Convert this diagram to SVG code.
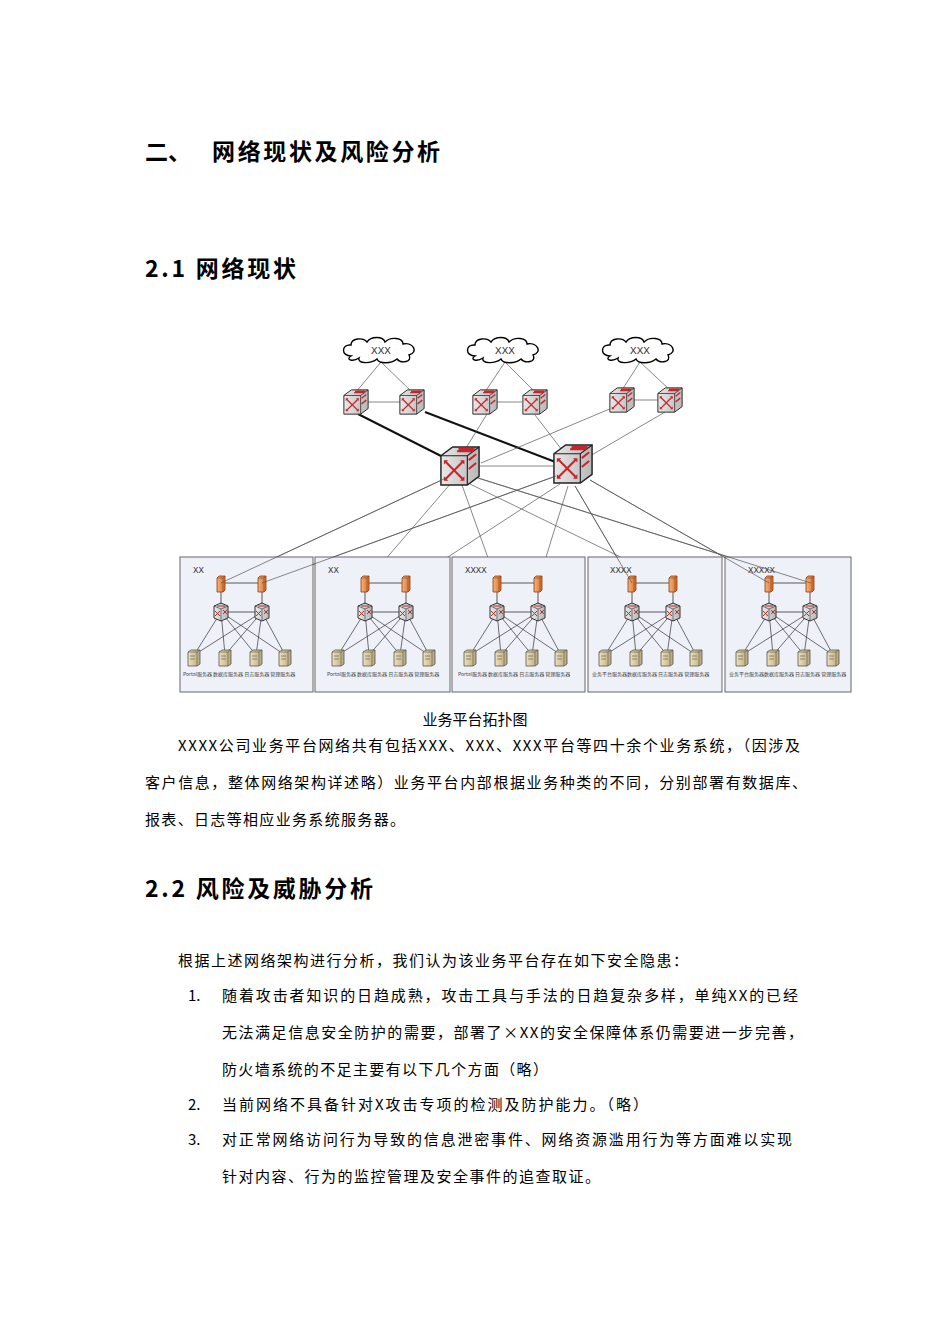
<svg xmlns="http://www.w3.org/2000/svg" xmlns:xlink="http://www.w3.org/1999/xlink" width="950" height="1344" viewBox="0 0 950 1344">
<style>
.h{font-family:"Noto Sans CJK SC",sans-serif;font-weight:bold;fill:#000}
.b{font-family:"Noto Sans CJK SC",sans-serif;font-size:15px;fill:#000}
.lbl{font-family:"Liberation Mono","Noto Sans CJK SC",monospace;fill:#333}
.sv{font-family:"Noto Sans CJK SC",sans-serif;font-size:5px;fill:#444}
.thin{stroke:#555;stroke-width:0.7;fill:none}
.thick{stroke:#111;stroke-width:2;fill:none}
.blk{fill:#eef1f8;stroke:#666;stroke-width:1}
</style>
<defs>
<linearGradient id="gf" x1="0" y1="0" x2="1" y2="0"><stop offset="0" stop-color="#e8e8e8"/><stop offset="1" stop-color="#b8b8b8"/></linearGradient>
<linearGradient id="fw" x1="0" y1="0" x2="1" y2="0"><stop offset="0" stop-color="#f7b27a"/><stop offset="1" stop-color="#d9702a"/></linearGradient>
<linearGradient id="srv" x1="0" y1="0" x2="1" y2="0"><stop offset="0" stop-color="#efe3b8"/><stop offset="1" stop-color="#b9a57a"/></linearGradient>
<symbol id="cube" viewBox="0 0 30 30">
<path d="M2 8 L10 2 L28 2 L28 22 L20 28 L2 28 Z" fill="url(#gf)" stroke="#222" stroke-width="1"/>
<path d="M2 8 L20 8 L28 2 M20 8 L20 28" fill="none" stroke="#222" stroke-width="0.8"/>
<path d="M5 12 L17 24 M17 12 L5 24 M13 5 L24 5 M14 3.5 L25 3.5 M21 11 L26 7 M21 17 L26 13" stroke="#c8242a" stroke-width="1.4" fill="none"/>
<path d="M4 11 l3 0 l-3 3 Z M18 25 l-3 0 l3 -3 Z M18 11 l0 3 l-3 -3 Z M4 25 l0 -3 l3 3 Z" fill="#c8242a"/>
</symbol>
<symbol id="rt" viewBox="0 0 20 20">
<path d="M3 4 L10 1 L17 4 L17 16 L10 19 L3 16 Z" fill="url(#gf)" stroke="#333" stroke-width="1"/>
<path d="M3 4 L10 7 L17 4 M10 7 L10 19" fill="none" stroke="#333" stroke-width="0.6"/>
<path d="M4 9 L9 14 M9 9 L4 14 M12 8 L16 12 M16 8 L12 12 M6 4 L14 4" stroke="#b03030" stroke-width="1"/>
</symbol>
<symbol id="fwl" viewBox="0 0 10 18">
<path d="M1 3 L3 1 L9 1 L9 15 L7 17 L1 17 Z" fill="url(#fw)" stroke="#8a3d10" stroke-width="0.8"/>
<path d="M1 3 L7 3 L9 1 M7 3 L7 17" fill="none" stroke="#8a3d10" stroke-width="0.6"/>
</symbol>
<symbol id="sv" viewBox="0 0 14 18">
<path d="M1 3 L4 1 L13 1 L13 15 L10 17 L1 17 Z" fill="url(#srv)" stroke="#555" stroke-width="0.8"/>
<path d="M1 3 L10 3 L13 1 M10 3 L10 17 M3 7 L8 7 M3 10 L8 10" fill="none" stroke="#555" stroke-width="0.6"/>
</symbol>
<g id="inner">
<path d="M41 26 H82 M41 55 H82 M41 26 V55 M82 26 V55" fill="none" stroke="#333" stroke-width="0.8"/>
<path d="M41 55 L14 98 M41 55 L45 98 M41 55 L76 98 M41 55 L105 98 M82 55 L14 98 M82 55 L45 98 M82 55 L76 98 M82 55 L105 98" stroke="#333" stroke-width="0.7" fill="none"/>
<use href="#fwl" x="36" y="18" width="10" height="18"/>
<use href="#fwl" x="77" y="18" width="10" height="18"/>
<use href="#rt" x="31" y="45" width="20" height="20"/>
<use href="#rt" x="72" y="45" width="20" height="20"/>
<use href="#sv" x="7" y="92" width="14" height="18"/>
<use href="#sv" x="38" y="92" width="14" height="18"/>
<use href="#sv" x="69" y="92" width="14" height="18"/>
<use href="#sv" x="98" y="92" width="14" height="18"/>
</g>
</defs>
<rect width="950" height="1344" fill="#fff"/>
<text class="h" x="145" y="160" font-size="23">二、</text>
<text class="h" x="212" y="160" font-size="23" textLength="228" lengthAdjust="spacing">网络现状及风险分析</text>
<text class="h" x="145" y="277" font-size="23" textLength="151" lengthAdjust="spacing">2.1 网络现状</text>

<g id="connectors">
<path class="thin" d="M381 362 L356 392 M381 362 L412 392 M505 362 L485 392 M505 362 L535 392 M640 362 L622 390 M640 362 L670 390 M368 402 H400 M497 402 H522 M634 400 H658 M480 466 H553"/>
<path class="thick" d="M358 414 L445 458 M425 412 L558 463"/>
<path class="thin" d="M487 414 L466 448 M535 415 L562 450 M612 408 L481 463 M665 412 L590 456"/>
<path class="thin" d="M446 478 L221 583 M452 482 L365 583 M462 485 L497 583 M470 484 L674 583 M478 478 L811 583 M556 476 L262 583 M560 484 L408 583 M568 486 L538 583 M575 486 L632 583 M590 480 L769 583"/>
</g>

<g id="clouds">
<g id="cloud1" transform="translate(381,350)"><path d="M-30 6 C-40 6 -40 -6 -30 -5 C-30 -12 -18 -13 -14 -8 C-10 -14 2 -14 4 -8 C10 -14 22 -12 22 -6 C32 -8 38 2 28 5 C32 12 20 14 16 9 C10 14 -2 14 -4 9 C-10 14 -24 14 -22 8 C-28 12 -36 10 -30 6 Z" fill="#fff" stroke="#000" stroke-width="1.4"/><text class="lbl" x="0" y="4" font-size="11" text-anchor="middle">XXX</text></g>
<g id="cloud2" transform="translate(505,350)"><path d="M-30 6 C-40 6 -40 -6 -30 -5 C-30 -12 -18 -13 -14 -8 C-10 -14 2 -14 4 -8 C10 -14 22 -12 22 -6 C32 -8 38 2 28 5 C32 12 20 14 16 9 C10 14 -2 14 -4 9 C-10 14 -24 14 -22 8 C-28 12 -36 10 -30 6 Z" fill="#fff" stroke="#000" stroke-width="1.4"/><text class="lbl" x="0" y="4" font-size="11" text-anchor="middle">XXX</text></g>
<g id="cloud3" transform="translate(640,350)"><path d="M-30 6 C-40 6 -40 -6 -30 -5 C-30 -12 -18 -13 -14 -8 C-10 -14 2 -14 4 -8 C10 -14 22 -12 22 -6 C32 -8 38 2 28 5 C32 12 20 14 16 9 C10 14 -2 14 -4 9 C-10 14 -24 14 -22 8 C-28 12 -36 10 -30 6 Z" fill="#fff" stroke="#000" stroke-width="1.4"/><text class="lbl" x="0" y="4" font-size="11" text-anchor="middle">XXX</text></g>
</g>

<g id="switches">
<use id="sw1" href="#cube" x="342" y="388" width="28" height="28"/>
<use id="sw2" href="#cube" x="398" y="388" width="28" height="28"/>
<use id="sw3" href="#cube" x="471" y="388" width="28" height="28"/>
<use id="sw4" href="#cube" x="521" y="388" width="28" height="28"/>
<use id="sw5" href="#cube" x="608" y="386" width="28" height="28"/>
<use id="sw6" href="#cube" x="656" y="386" width="28" height="28"/>
<use id="core1" href="#cube" x="438" y="444" width="44" height="44"/>
<use id="core2" href="#cube" x="551" y="442" width="44" height="44"/>
</g>

<g id="block1"><rect class="blk" x="180" y="557" width="133" height="135"/><text class="lbl" x="193" y="573" font-size="9">XX</text><use href="#inner" x="180" y="557"/>
<text class="sv" x="183" y="676">Portal服务器 数据库服务器  日志服务器  管理服务器</text></g>
<g id="block2"><rect class="blk" x="315" y="557" width="135" height="135"/><text class="lbl" x="328" y="573" font-size="9">XX</text><use href="#inner" x="324" y="557"/>
<text class="sv" x="327" y="676">Portal服务器 数据库服务器  日志服务器  管理服务器</text></g>
<g id="block3"><rect class="blk" x="452" y="557" width="133" height="135"/><text class="lbl" x="465" y="573" font-size="9">XXXX</text><use href="#inner" x="456" y="557"/>
<text class="sv" x="458" y="676">Portal服务器 数据库服务器  日志服务器  管理服务器</text></g>
<g id="block4"><rect class="blk" x="588" y="557" width="134" height="135"/><text class="lbl" x="610" y="573" font-size="9">XXXX</text><use href="#inner" x="591" y="557"/>
<text class="sv" x="592" y="676">业务平台服务器数据库服务器  日志服务器  管理服务器</text></g>
<g id="block5"><rect class="blk" x="725" y="557" width="126" height="135"/><text class="lbl" x="748" y="573" font-size="9">XXXXX</text><use href="#inner" x="728" y="557"/>
<text class="sv" x="729" y="676">业务平台服务器数据库服务器  日志服务器  管理服务器</text></g>
<path class="thin" d="M446 478 L221 583 M478 478 L811 583 M556 476 L262 583 M590 480 L769 583 M575 486 L632 583"/>

<text class="b" x="475" y="725" text-anchor="middle">业务平台拓扑图</text>
<text class="b" x="178" y="751" textLength="622" lengthAdjust="spacing">XXXX公司业务平台网络共有包括XXX、XXX、XXX平台等四十余个业务系统，（因涉及</text>
<text class="b" x="145" y="788" textLength="662" lengthAdjust="spacing">客户信息，整体网络架构详述略）业务平台内部根据业务种类的不同，分别部署有数据库、</text>
<text class="b" x="145" y="825" textLength="260" lengthAdjust="spacing">报表、日志等相应业务系统服务器。</text>
<text class="h" x="145" y="897" font-size="23" textLength="228" lengthAdjust="spacing">2.2 风险及威胁分析</text>
<text class="b" x="178" y="966" textLength="510" lengthAdjust="spacing">根据上述网络架构进行分析，我们认为该业务平台存在如下安全隐患：</text>
<text class="b" x="188" y="1001">1.</text>
<text class="b" x="222" y="1001" textLength="576" lengthAdjust="spacing">随着攻击者知识的日趋成熟，攻击工具与手法的日趋复杂多样，单纯XX的已经</text>
<text class="b" x="222" y="1038" textLength="581" lengthAdjust="spacing">无法满足信息安全防护的需要，部署了×XX的安全保障体系仍需要进一步完善，</text>
<text class="b" x="222" y="1075" textLength="326" lengthAdjust="spacing">防火墙系统的不足主要有以下几个方面（略）</text>
<text class="b" x="188" y="1110">2.</text>
<text class="b" x="222" y="1110" textLength="426" lengthAdjust="spacing">当前网络不具备针对X攻击专项的检测及防护能力。（略）</text>
<text class="b" x="188" y="1145">3.</text>
<text class="b" x="222" y="1145" textLength="570" lengthAdjust="spacing">对正常网络访问行为导致的信息泄密事件、网络资源滥用行为等方面难以实现</text>
<text class="b" x="222" y="1182" textLength="378" lengthAdjust="spacing">针对内容、行为的监控管理及安全事件的追查取证。</text>
</svg>
